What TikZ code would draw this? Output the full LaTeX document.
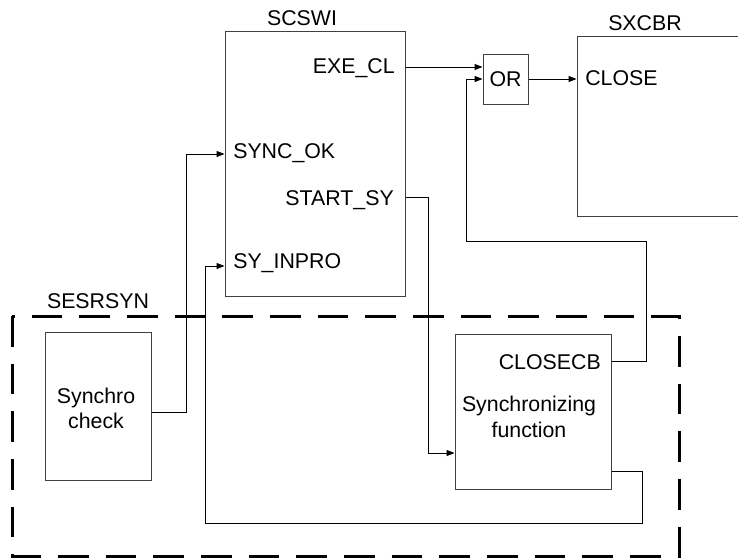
\documentclass[tikz,border=0pt]{standalone}
\usepackage{fontspec}
\setmainfont{Liberation Sans}
\usetikzlibrary{arrows.meta}
\begin{document}
\begin{tikzpicture}[x=0.75pt,y=-0.75pt,
  box/.style={draw=black!75,line width=0.75pt,inner sep=0},
  lbl/.style={inner sep=0,font=\fontsize{16}{19}\selectfont},
  wire/.style={line width=0.75pt},
  arr/.style={wire,-{Triangle[length=6pt,width=4.5pt]}},
  grp/.style={line width=2.25pt,dash pattern=on 23pt off 12.75pt}]
\useasboundingbox (0,0) rectangle (738,557);
\clip (0,0) rectangle (738,557);
% group frame
\draw[grp] (12,316) rectangle (679,556);
% boxes
\node[box,minimum width=135pt,minimum height=198.75pt] (sc) at (315,163.5) {};
\node[box,lbl,draw=black!75,minimum width=33.75pt,minimum height=37.5pt] (or) at (505.5,79) {OR};
\node[box,minimum width=137.25pt,minimum height=135pt] (sx) at (668.5,126) {};
\node[box,minimum width=79.5pt,minimum height=111pt] (sy) at (98,406) {};
\node[box,minimum width=117pt,minimum height=116.25pt] (sf) at (533,411.5) {};
% labels
\node[lbl,anchor=base] (scl) at (302,25) {SCSWI};
\node[lbl,anchor=base] (sxl) at (645,30) {SXCBR};
\node[lbl,anchor=base east] (exe) at (395,73) {EXE\_CL};
\node[lbl,anchor=base west] (close) at (585,85) {CLOSE};
\node[lbl,anchor=base west] (sok) at (233,158) {SYNC\_OK};
\node[lbl,anchor=base east] (ssy) at (394,205) {START\_SY};
\node[lbl,anchor=base west] (sip) at (233,268) {SY\_INPRO};
\node[lbl,anchor=base] (ses) at (98,308) {SESRSYN};
\node[lbl,anchor=base] (sc1) at (96,403) {Synchro};
\node[lbl,anchor=base] (sc2) at (96,428) {check};
\node[lbl,anchor=base east] (ccb) at (601,369) {CLOSECB};
\node[lbl,anchor=base] (sf1) at (529,411) {Synchronizing};
\node[lbl,anchor=base] (sf2) at (529,437) {function};
% helper coordinates
\coordinate (y67) at (0,67);
\coordinate (y361) at (0,361);
\coordinate (y412) at (0,412);
\coordinate (y197) at (0,197);
\coordinate (y471) at (0,471);
\coordinate (b1) at (646,241);
\coordinate (b2) at (466,241);
\coordinate (k1) at (186,154);
\coordinate (k2) at (428,453);
\coordinate (k3) at (642,523);
\coordinate (k4) at (205,266);
% connectors
\draw[arr] (sc.east |- y67) -- (or.west |- y67);
\draw[arr] (or.east) -- (sx.west |- or.east);
\draw[arr] (sf.east |- y361) -| (b1) -- (b2) |- (or.west);
\draw[arr] (sy.east |- y412) -| (k1) -- (sc.west |- k1);
\draw[arr] (sc.east |- y197) -| (k2) -- (sf.west |- k2);
\draw[arr] (sf.east |- y471) -| (k3) -| (k4) -- (sc.west |- k4);
\end{tikzpicture}
\end{document}
